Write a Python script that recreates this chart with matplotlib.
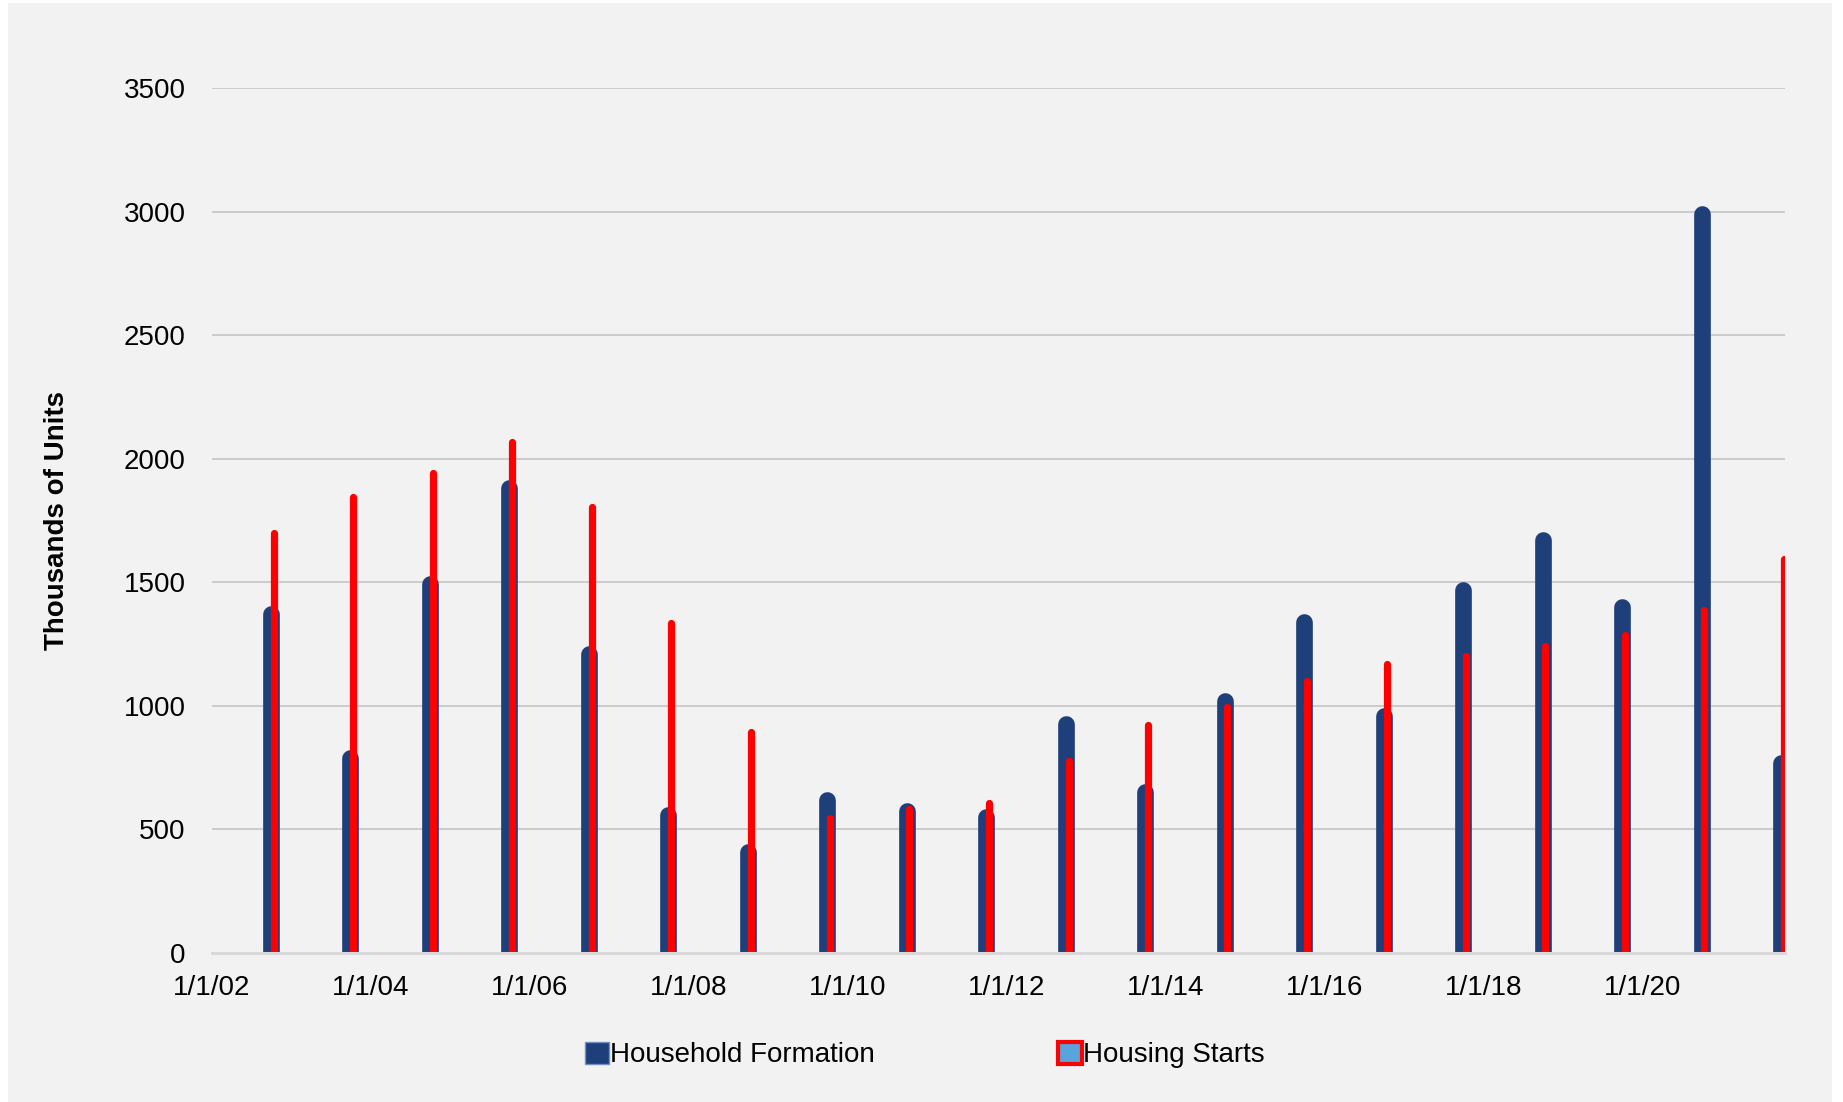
import datetime as dt
import matplotlib
matplotlib.use("Agg")
import matplotlib.pyplot as plt
from matplotlib.patches import Patch, Rectangle
from matplotlib.transforms import ScaledTranslation

# yearly observations (plotted late September each year)
years = list(range(2002, 2022))
household_formation = [1390, 810, 1515, 1900, 1230, 580, 430, 640, 595, 570,
                       945, 670, 1040, 1360, 980, 1490, 1690, 1420, 3010, 790]
housing_starts = [1710, 1855, 1950, 2075, 1815, 1345, 905, 555, 590, 615,
                  785, 930, 1005, 1110, 1180, 1210, 1250, 1295, 1395, 1605]
tick_years = list(range(2002, 2022, 2))
tick_labels = ["1/1/%02d" % (y % 100) for y in tick_years]

plt.rcParams["font.family"] = ["Liberation Sans", "DejaVu Sans"]

blue = "#1f3f7b"
red = "#ff0000"

fig = plt.figure(figsize=(18.43, 11.02), dpi=100, facecolor="white")
fig.patches.append(Rectangle((8 / 1843, 0), (1832 - 8) / 1843, 1 - 3 / 1102,
                             transform=fig.transFigure, facecolor="#f2f2f2",
                             edgecolor="none", zorder=-10))
ax = fig.add_axes([212 / 1843, 1 - 953 / 1102, (1785 - 212) / 1843, (953 - 88) / 1102])
ax.set_facecolor("none")
ax.set_zorder(1)

d_blue = [dt.date(y, 9, 28) for y in years]
d_red = [d + dt.timedelta(days=13) for d in d_blue]


def rounded_bars(x, h, color, lw, z):
    # round cap on top, nudged down a little so the cap sits near the value
    lc = ax.vlines(x, 0, h, colors=color, linewidth=lw, zorder=z)
    lc.set_capstyle("round")
    lc.set_transform(ax.transData + ScaledTranslation(0, -lw * 0.3 / 72, fig.dpi_scale_trans))
    return lc


rounded_bars(d_blue, household_formation, blue, 12.0, 3)
rounded_bars(d_red, housing_starts, red, 5.2, 4)

ax.set_xlim(dt.date(2002, 1, 1), dt.date(2021, 10, 16))
ax.set_ylim(0, 3500)
ax.set_yticks(range(0, 3501, 500))
ax.set_xticks([dt.date(y, 1, 1) for y in tick_years])
ax.set_xticklabels(tick_labels)
ax.tick_params(axis="both", length=0, labelsize=20, colors="black")
ax.tick_params(axis="x", pad=15.5)
ax.tick_params(axis="y", pad=19)

ax.grid(axis="y", color="#c8c8c8", linewidth=1.3, zorder=1)
ax.set_axisbelow(True)
for s in ["top", "right", "left"]:
    ax.spines[s].set_visible(False)
ax.spines["bottom"].set_color("#d9d9d9")
ax.spines["bottom"].set_linewidth(2.2)
ax.spines["bottom"].set_zorder(5)

ax.set_ylabel("Thousands of Units", fontsize=20, fontweight="bold")
ax.yaxis.set_label_coords(-0.0905, 0.5)

handles = [Patch(facecolor=blue, edgecolor="#6f8fc0", linewidth=1),
           Patch(facecolor="#5ba3dc", edgecolor=red, linewidth=3)]
fig.legend(handles, ["Household Formation", "Housing Starts"], loc="center",
           bbox_to_anchor=(0.502, 1 - 1055 / 1102), ncol=2, frameon=False,
           fontsize=20, handlelength=0.85, handleheight=0.85,
           handletextpad=0.05, columnspacing=6.6)

fig.savefig("out.png", dpi=100, facecolor=fig.get_facecolor())
